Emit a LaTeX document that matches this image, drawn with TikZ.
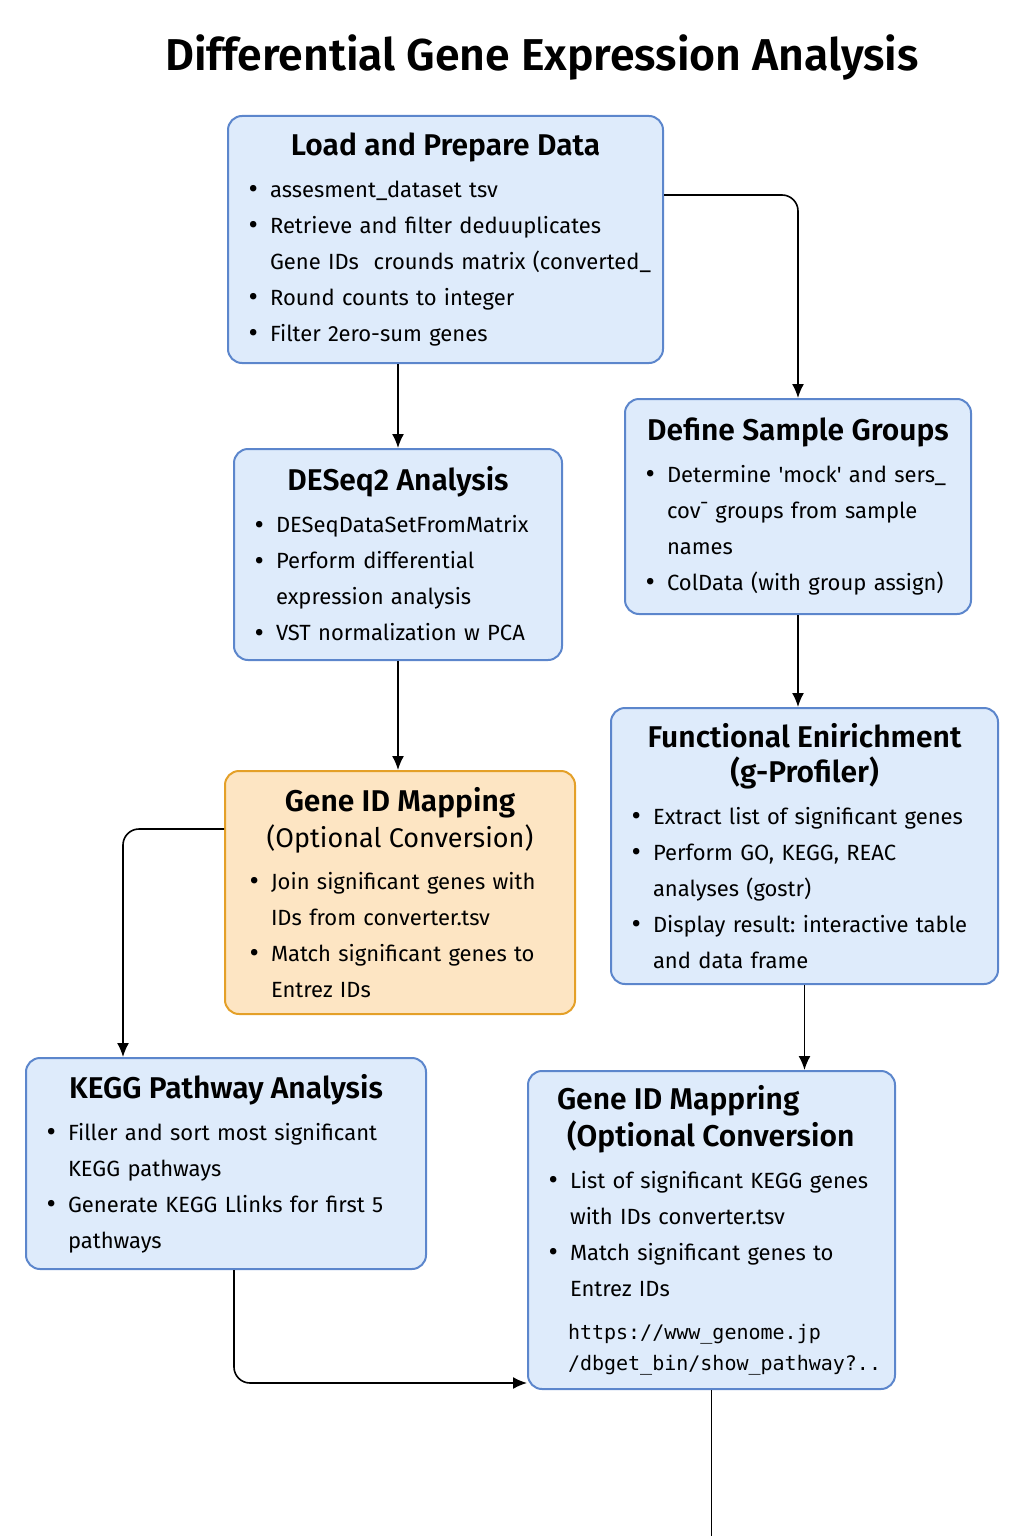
\documentclass[tikz,border=0pt]{standalone}
\usepackage{fontspec}
\setmainfont{Fira Sans}
\IfFontExistsTF{Fira Sans SemiBold}
    {\newfontfamily\headfont{Fira Sans SemiBold}}
    {\IfFontExistsTF{Fira Sans Medium}
        {\newfontfamily\headfont{Fira Sans Medium}}
        {\newcommand{\headfont}{\bfseries}}}
\setmonofont{DejaVu Sans Mono}
\usepackage{enumitem}
\setlist[itemize]{leftmargin=13pt, labelsep=6pt, itemsep=0pt, topsep=3pt, parsep=0pt, partopsep=0pt,
    label=\raisebox{-0.12ex}{\Large\textbullet}}
\usetikzlibrary{arrows.meta}

\definecolor{boxblue}{RGB}{92,134,204}
\definecolor{fillblue}{RGB}{222,235,251}
\definecolor{boxorange}{RGB}{228,160,40}
\definecolor{fillorange}{RGB}{253,229,195}

\newcommand{\boxhead}[1]{{\centering\fontsize{15}{17.5}\selectfont\headfont #1\par}}
\newcommand{\bodyfont}{\fontsize{11}{18}\selectfont\frenchspacing}

\begin{document}
\begin{tikzpicture}[
    x=0.5pt, y=-0.5pt,
    step box/.style={
        rectangle,
        rounded corners=7pt,
        line width=1pt,
        draw=boxblue,
        fill=fillblue,
        inner xsep=8pt,
        inner ysep=5pt,
        align=left,
        font=\bodyfont
    },
    option box/.style={
        step box,
        draw=boxorange,
        fill=fillorange
    },
    flow/.style={
        -{Latex[length=7pt, width=6pt]},
        line width=0.8pt,
        rounded corners=8pt
    }
]
\useasboundingbox (0,0) rectangle (1024,1536);

\node[font=\fontsize{22.3}{26}\selectfont\headfont] (title) at (542,58) {Differential Gene Expression Analysis};

\node[step box, text width=201.5pt, minimum height=123.5pt] (load) at (445.5,239.5) {%
    \boxhead{Load and Prepare Data}
    \begin{itemize}
        \item assesment\_dataset tsv
        \item Retrieve and filter deduuplicates\newline \mbox{Gene IDs\ \ crounds matrix (converted\_}
        \item Round counts to integer
        \item Filter 2ero-sum genes
    \end{itemize}};

\node[step box, text width=148pt, minimum height=105.5pt] (deseq) at (398,554.5) {%
    \boxhead{DESeq2 Analysis}
    \begin{itemize}
        \item DESeqDataSetFromMatrix
        \item Perform differential\newline expression analysis
        \item VST normalization w PCA
    \end{itemize}};

\node[step box, text width=157pt, minimum height=107.5pt] (groups) at (798,506.5) {%
    \boxhead{Define Sample Groups}
    \begin{itemize}
        \item Determine \textquotesingle mock\textquotesingle\ and sers\_\newline cov¯ groups from sample\newline names
        \item ColData (with group assign)
    \end{itemize}};

\node[option box, inner xsep=10pt, text width=155pt, minimum height=121.5pt] (mapping) at (400,892.5) {%
    \boxhead{Gene ID Mapping}
    {\centering\fontsize{13.5}{18}\selectfont (Optional Conversion)\par}
    \begin{itemize}
        \item Join significant genes with\newline IDs from converter.tsv
        \item Match significant genes to\newline Entrez IDs
    \end{itemize}};

\node[step box, text width=177.5pt, minimum height=138pt] (enrich) at (804.5,846) {%
    \boxhead{Functional Enirichment\\(g-Profiler)}
    \begin{itemize}
        \item Extract list of significant genes
        \item Perform GO, KEGG, REAC\newline analyses (gostr)
        \item Display result: interactive table\newline and data frame
    \end{itemize}};

\node[step box, text width=184pt, minimum height=105.5pt] (kegg) at (226,1163.5) {%
    \boxhead{KEGG Pathway Analysis}
    \begin{itemize}
        \item Filler and sort most significant\newline KEGG pathways
        \item Generate KEGG Llinks for first 5\newline pathways
    \end{itemize}};

\node[step box, text width=167.5pt, minimum height=159pt] (mappring) at (711.5,1230) {%
    {\fontsize{15}{18.5}\selectfont\headfont\hspace*{6.5pt}Gene ID Mappring\newline\hspace*{11.5pt}(Optional Conversion\par}
    \begin{itemize}
        \item List of significant KEGG genes\newline with IDs converter.tsv
        \item Match significant genes to\newline Entrez IDs
    \end{itemize}
    \vspace{3pt}
    {\ttfamily\fontsize{10}{15.5}\selectfont\leftskip=12pt https://www\_genome.jp\newline /dbget\_bin/show\_pathway?..\par}};

\coordinate (out) at (711.5,1536);

% Arrows
\draw[flow] ([yshift=22.25pt]load.east) -| (groups.north);
\draw[flow] (deseq.north |- load.south) -- (deseq.north);
\draw[flow] (deseq.south) -- (deseq.south |- mapping.north);
\draw[flow] (groups.south) -- (groups.south |- enrich.north);
\draw[flow] ([yshift=31.75pt]mapping.west) -| ([xshift=-51.5pt]kegg.north);
\draw[flow] (enrich.south) -- (enrich.south |- mappring.north);
\draw[flow] ([xshift=4pt]kegg.south) |- ([yshift=-76.5pt]mappring.west);
\draw[line width=0.8pt] (mappring.south) -- (out);

\end{tikzpicture}
\end{document}
